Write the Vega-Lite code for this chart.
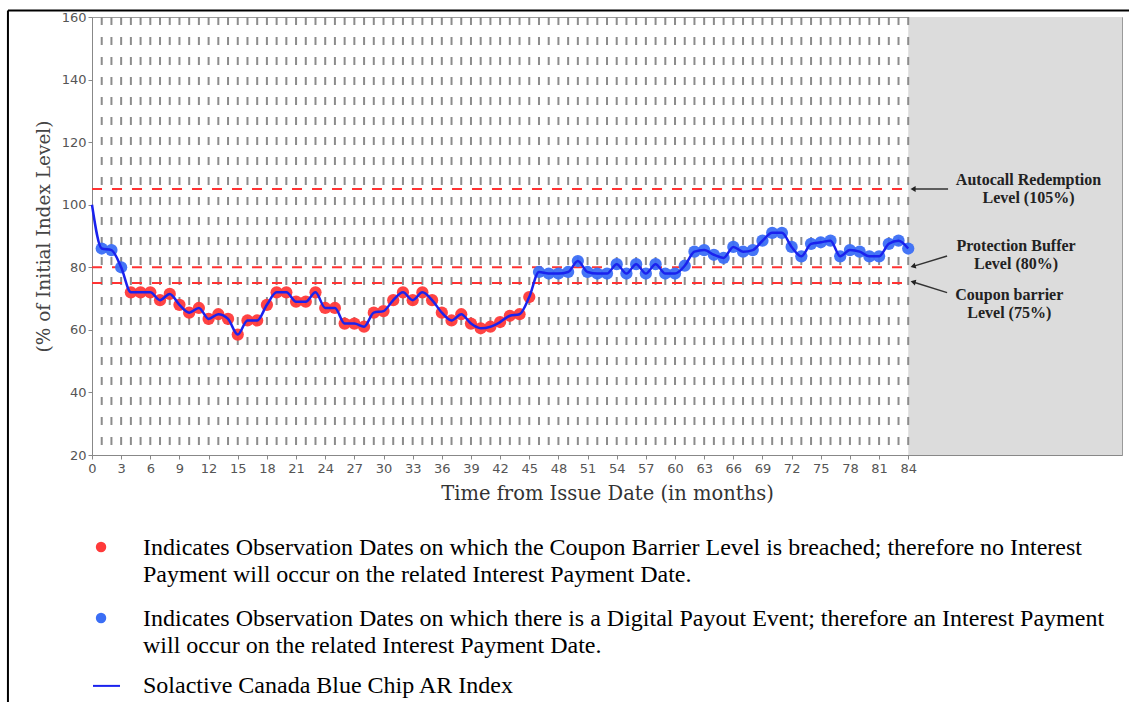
{
  "$schema": "https://vega.github.io/schema/vega-lite/v6.json",
  "width": 1030,
  "height": 438,
  "autosize": {"type": "none"},
  "padding": {"left": 92, "top": 17, "right": 7, "bottom": 247},
  "background": "white",
  "config": {"view": {"stroke": "#9a9a9a", "strokeWidth": 1}},
  "resolve": {"axis": {"x": "independent", "y": "independent"}},
  "datasets": {
    "series": [
      {"m": 0, "v": 100, "s": "none"},
      {"m": 1, "v": 86, "s": "payout"},
      {"m": 2, "v": 85.5, "s": "payout"},
      {"m": 3, "v": 80, "s": "payout"},
      {"m": 4, "v": 72, "s": "breach"},
      {"m": 5, "v": 72, "s": "breach"},
      {"m": 6, "v": 72, "s": "breach"},
      {"m": 7, "v": 69.5, "s": "breach"},
      {"m": 8, "v": 71.5, "s": "breach"},
      {"m": 9, "v": 68, "s": "breach"},
      {"m": 10, "v": 65.5, "s": "breach"},
      {"m": 11, "v": 67, "s": "breach"},
      {"m": 12, "v": 63.5, "s": "breach"},
      {"m": 13, "v": 65, "s": "breach"},
      {"m": 14, "v": 63.5, "s": "breach"},
      {"m": 15, "v": 58.5, "s": "breach"},
      {"m": 16, "v": 63, "s": "breach"},
      {"m": 17, "v": 63, "s": "breach"},
      {"m": 18, "v": 68, "s": "breach"},
      {"m": 19, "v": 72, "s": "breach"},
      {"m": 20, "v": 72, "s": "breach"},
      {"m": 21, "v": 69, "s": "breach"},
      {"m": 22, "v": 69, "s": "breach"},
      {"m": 23, "v": 72, "s": "breach"},
      {"m": 24, "v": 67, "s": "breach"},
      {"m": 25, "v": 67, "s": "breach"},
      {"m": 26, "v": 62, "s": "breach"},
      {"m": 27, "v": 62, "s": "breach"},
      {"m": 28, "v": 61, "s": "breach"},
      {"m": 29, "v": 65.5, "s": "breach"},
      {"m": 30, "v": 66, "s": "breach"},
      {"m": 31, "v": 69.5, "s": "breach"},
      {"m": 32, "v": 72, "s": "breach"},
      {"m": 33, "v": 69.5, "s": "breach"},
      {"m": 34, "v": 72, "s": "breach"},
      {"m": 35, "v": 69.5, "s": "breach"},
      {"m": 36, "v": 65.5, "s": "breach"},
      {"m": 37, "v": 63, "s": "breach"},
      {"m": 38, "v": 65, "s": "breach"},
      {"m": 39, "v": 62, "s": "breach"},
      {"m": 40, "v": 60.5, "s": "breach"},
      {"m": 41, "v": 61, "s": "breach"},
      {"m": 42, "v": 62.5, "s": "breach"},
      {"m": 43, "v": 64.5, "s": "breach"},
      {"m": 44, "v": 65, "s": "breach"},
      {"m": 45, "v": 70.5, "s": "breach"},
      {"m": 46, "v": 78.5, "s": "payout"},
      {"m": 47, "v": 78, "s": "payout"},
      {"m": 48, "v": 78, "s": "payout"},
      {"m": 49, "v": 78.5, "s": "payout"},
      {"m": 50, "v": 82, "s": "payout"},
      {"m": 51, "v": 78.5, "s": "payout"},
      {"m": 52, "v": 78, "s": "payout"},
      {"m": 53, "v": 78, "s": "payout"},
      {"m": 54, "v": 81, "s": "payout"},
      {"m": 55, "v": 78, "s": "payout"},
      {"m": 56, "v": 81, "s": "payout"},
      {"m": 57, "v": 78, "s": "payout"},
      {"m": 58, "v": 81, "s": "payout"},
      {"m": 59, "v": 78, "s": "payout"},
      {"m": 60, "v": 78, "s": "payout"},
      {"m": 61, "v": 80.5, "s": "payout"},
      {"m": 62, "v": 85, "s": "payout"},
      {"m": 63, "v": 85.5, "s": "payout"},
      {"m": 64, "v": 84, "s": "payout"},
      {"m": 65, "v": 83, "s": "payout"},
      {"m": 66, "v": 86.5, "s": "payout"},
      {"m": 67, "v": 85, "s": "payout"},
      {"m": 68, "v": 85.5, "s": "payout"},
      {"m": 69, "v": 88.5, "s": "payout"},
      {"m": 70, "v": 91, "s": "payout"},
      {"m": 71, "v": 91, "s": "payout"},
      {"m": 72, "v": 86.5, "s": "payout"},
      {"m": 73, "v": 83.5, "s": "payout"},
      {"m": 74, "v": 87.5, "s": "payout"},
      {"m": 75, "v": 88, "s": "payout"},
      {"m": 76, "v": 88.5, "s": "payout"},
      {"m": 77, "v": 83.5, "s": "payout"},
      {"m": 78, "v": 85.5, "s": "payout"},
      {"m": 79, "v": 85, "s": "payout"},
      {"m": 80, "v": 83.5, "s": "payout"},
      {"m": 81, "v": 83.5, "s": "payout"},
      {"m": 82, "v": 87.5, "s": "payout"},
      {"m": 83, "v": 88.5, "s": "payout"},
      {"m": 84, "v": 86, "s": "payout"}
    ],
    "levels": [{"level": 105}, {"level": 80}, {"level": 75}],
    "notes": [
      {"t": "Autocall Redemption", "m": 96.38, "v": 107.85},
      {"t": "Level (105%)", "m": 96.38, "v": 102.2},
      {"t": "Protection Buffer", "m": 95.1, "v": 86.8},
      {"t": "Level (80%)", "m": 95.1, "v": 81.15},
      {"t": "Coupon barrier", "m": 94.4, "v": 71.0},
      {"t": "Level (75%)", "m": 94.4, "v": 65.35}
    ],
    "arrows": [
      {"a": "auto", "m1": 88.1, "v1": 105, "m2": 84.5, "v2": 105},
      {"a": "prot", "m1": 88.0, "v1": 83.6, "m2": 84.5, "v2": 80.3},
      {"a": "coup", "m1": 88.0, "v1": 71.9, "m2": 84.5, "v2": 75.3}
    ],
    "legendDots": [
      {"k": "breach", "m": 0.93, "v": -9.4},
      {"k": "payout", "m": 0.93, "v": -32.1}
    ],
    "legendLine": [{"m1": 0.1, "m2": 2.88, "v": -53.8}],
    "legendText": [
      {"t": "Indicates Observation Dates on which the Coupon Barrier Level is breached; therefore no Interest", "m": 5.25, "v": -9.7},
      {"t": "Payment will occur on the related Interest Payment Date.", "m": 5.25, "v": -18.4},
      {"t": "Indicates Observation Dates on which there is a Digital Payout Event; therefore an Interest Payment", "m": 5.25, "v": -32.4},
      {"t": "will occur on the related Interest Payment Date.", "m": 5.25, "v": -41.0},
      {"t": "Solactive Canada Blue Chip AR Index", "m": 5.25, "v": -53.8}
    ]
  },
  "layer": [
    {
      "data": {"values": [{}]},
      "mark": {"type": "rect", "fill": "#dcdcdc"},
      "encoding": {
        "x": {"datum": 84, "type": "quantitative", "scale": {"domain": [0, 106], "nice": false, "zero": false},
          "axis": {
            "values": [0, 3, 6, 9, 12, 15, 18, 21, 24, 27, 30, 33, 36, 39, 42, 45, 48, 51, 54, 57, 60, 63, 66, 69, 72, 75, 78, 81, 84],
            "title": "Time from Issue Date (in months)",
            "grid": false, "tickSize": 4, "tickColor": "#888", "domainColor": "#888",
            "labelColor": "#555", "labelFont": "DejaVu Sans", "labelFontSize": 13, "labelPadding": 3, "labelFlush": false,
            "titleFont": "DejaVu Serif", "titleFontSize": 19.5, "titleFontWeight": "normal", "titleColor": "#333", "titlePadding": 9
          }
        },
        "x2": {"datum": 106},
        "y": {"datum": 20, "type": "quantitative", "scale": {"domain": [20, 160], "nice": false, "zero": false},
          "axis": {
            "values": [20, 40, 60, 80, 100, 120, 140, 160],
            "title": "(% of Initial Index Level)",
            "grid": false, "tickSize": 4, "tickColor": "#888", "domainColor": "#888",
            "labelColor": "#555", "labelFont": "DejaVu Sans", "labelFontSize": 13, "labelPadding": 2,
            "titleFont": "DejaVu Serif", "titleFontSize": 18.5, "titleFontWeight": "normal", "titleColor": "#444", "titlePadding": 8
          }
        },
        "y2": {"datum": 160}
      }
    },
    {
      "data": {"name": "series"},
      "transform": [{"filter": "datum.m > 0"}],
      "mark": {"type": "rule", "color": "#8c8c8c", "strokeWidth": 2, "strokeDash": [8, 12]},
      "encoding": {
        "x": {"field": "m", "type": "quantitative", "scale": {"domain": [0, 106], "nice": false, "zero": false}, "axis": null},
        "y": {"datum": 160, "type": "quantitative", "scale": {"domain": [20, 160], "nice": false, "zero": false}, "axis": null},
        "y2": {"datum": 20}
      }
    },
    {
      "data": {"name": "levels"},
      "mark": {"type": "rule", "color": "#ff3333", "strokeWidth": 2, "strokeDash": [10, 10]},
      "encoding": {
        "y": {"field": "level", "type": "quantitative", "scale": {"domain": [20, 160], "nice": false, "zero": false}, "axis": null},
        "x": {"datum": 0, "type": "quantitative", "scale": {"domain": [0, 106], "nice": false, "zero": false}, "axis": null},
        "x2": {"datum": 84}
      }
    },
    {
      "data": {"name": "series"},
      "transform": [{"filter": "datum.s != 'none'"}],
      "mark": {"type": "circle", "size": 150, "opacity": 0.95},
      "encoding": {
        "x": {"field": "m", "type": "quantitative", "scale": {"domain": [0, 106], "nice": false, "zero": false}, "axis": null},
        "y": {"field": "v", "type": "quantitative", "scale": {"domain": [20, 160], "nice": false, "zero": false}, "axis": null},
        "color": {"field": "s", "type": "nominal", "scale": {"domain": ["breach", "payout"], "range": ["#ff3a3a", "#3b6ef5"]}, "legend": null}
      }
    },
    {
      "data": {"name": "series"},
      "mark": {"type": "line", "color": "#1a22ee", "strokeWidth": 2.5, "interpolate": "monotone"},
      "encoding": {
        "x": {"field": "m", "type": "quantitative", "scale": {"domain": [0, 106], "nice": false, "zero": false}, "axis": null},
        "y": {"field": "v", "type": "quantitative", "scale": {"domain": [20, 160], "nice": false, "zero": false}, "axis": null}
      }
    },
    {
      "data": {"name": "arrows"},
      "mark": {"type": "rule", "color": "#333", "strokeWidth": 1.5},
      "encoding": {
        "x": {"field": "m1", "type": "quantitative", "scale": {"domain": [0, 106], "nice": false, "zero": false}, "axis": null},
        "x2": {"field": "m2"},
        "y": {"field": "v1", "type": "quantitative", "scale": {"domain": [20, 160], "nice": false, "zero": false}, "axis": null},
        "y2": {"field": "v2"}
      }
    },
    {
      "data": {"name": "arrows"},
      "transform": [{"filter": "datum.a == 'auto'"}],
      "mark": {"type": "point", "shape": "triangle-left", "filled": true, "color": "#222", "size": 35, "opacity": 1},
      "encoding": {
        "x": {"field": "m2", "type": "quantitative", "scale": {"domain": [0, 106], "nice": false, "zero": false}, "axis": null},
        "y": {"field": "v2", "type": "quantitative", "scale": {"domain": [20, 160], "nice": false, "zero": false}, "axis": null}
      }
    },
    {
      "data": {"name": "arrows"},
      "transform": [{"filter": "datum.a == 'prot'"}],
      "mark": {"type": "point", "shape": "triangle-left", "filled": true, "color": "#222", "size": 35, "opacity": 1, "angle": -17},
      "encoding": {
        "x": {"field": "m2", "type": "quantitative", "scale": {"domain": [0, 106], "nice": false, "zero": false}, "axis": null},
        "y": {"field": "v2", "type": "quantitative", "scale": {"domain": [20, 160], "nice": false, "zero": false}, "axis": null}
      }
    },
    {
      "data": {"name": "arrows"},
      "transform": [{"filter": "datum.a == 'coup'"}],
      "mark": {"type": "point", "shape": "triangle-left", "filled": true, "color": "#222", "size": 35, "opacity": 1, "angle": 14},
      "encoding": {
        "x": {"field": "m2", "type": "quantitative", "scale": {"domain": [0, 106], "nice": false, "zero": false}, "axis": null},
        "y": {"field": "v2", "type": "quantitative", "scale": {"domain": [20, 160], "nice": false, "zero": false}, "axis": null}
      }
    },
    {
      "data": {"name": "notes"},
      "mark": {"type": "text", "font": "Liberation Serif", "fontWeight": "bold", "fontSize": 16, "color": "#222", "align": "center", "baseline": "middle"},
      "encoding": {
        "x": {"field": "m", "type": "quantitative", "scale": {"domain": [0, 106], "nice": false, "zero": false}, "axis": null},
        "y": {"field": "v", "type": "quantitative", "scale": {"domain": [20, 160], "nice": false, "zero": false}, "axis": null},
        "text": {"field": "t"}
      }
    },
    {
      "data": {"name": "legendDots"},
      "mark": {"type": "circle", "size": 110, "opacity": 1},
      "encoding": {
        "x": {"field": "m", "type": "quantitative", "scale": {"domain": [0, 106], "nice": false, "zero": false}, "axis": null},
        "y": {"field": "v", "type": "quantitative", "scale": {"domain": [20, 160], "nice": false, "zero": false}, "axis": null},
        "color": {"field": "k", "type": "nominal", "scale": {"domain": ["breach", "payout"], "range": ["#ff3a3a", "#3b6ef5"]}, "legend": null}
      }
    },
    {
      "data": {"name": "legendLine"},
      "mark": {"type": "rule", "color": "#1a22ee", "strokeWidth": 2},
      "encoding": {
        "x": {"field": "m1", "type": "quantitative", "scale": {"domain": [0, 106], "nice": false, "zero": false}, "axis": null},
        "x2": {"field": "m2"},
        "y": {"field": "v", "type": "quantitative", "scale": {"domain": [20, 160], "nice": false, "zero": false}, "axis": null}
      }
    },
    {
      "data": {"name": "legendText"},
      "mark": {"type": "text", "font": "Liberation Serif", "fontSize": 24, "color": "#000", "align": "left", "baseline": "middle"},
      "encoding": {
        "x": {"field": "m", "type": "quantitative", "scale": {"domain": [0, 106], "nice": false, "zero": false}, "axis": null},
        "y": {"field": "v", "type": "quantitative", "scale": {"domain": [20, 160], "nice": false, "zero": false}, "axis": null},
        "text": {"field": "t"}
      }
    },
    {
      "data": {"values": [{}]},
      "mark": {"type": "rule", "color": "#000", "strokeWidth": 2},
      "encoding": {
        "x": {"datum": -8.65, "type": "quantitative", "scale": {"domain": [0, 106], "nice": false, "zero": false}, "axis": null},
        "x2": {"datum": 106.75},
        "y": {"datum": 162.1, "type": "quantitative", "scale": {"domain": [20, 160], "nice": false, "zero": false}, "axis": null}
      }
    },
    {
      "data": {"values": [{}]},
      "mark": {"type": "rule", "color": "#000", "strokeWidth": 2},
      "encoding": {
        "x": {"datum": -8.65, "type": "quantitative", "scale": {"domain": [0, 106], "nice": false, "zero": false}, "axis": null},
        "y": {"datum": 162.1, "type": "quantitative", "scale": {"domain": [20, 160], "nice": false, "zero": false}, "axis": null},
        "y2": {"datum": -59}
      }
    }
  ]
}
